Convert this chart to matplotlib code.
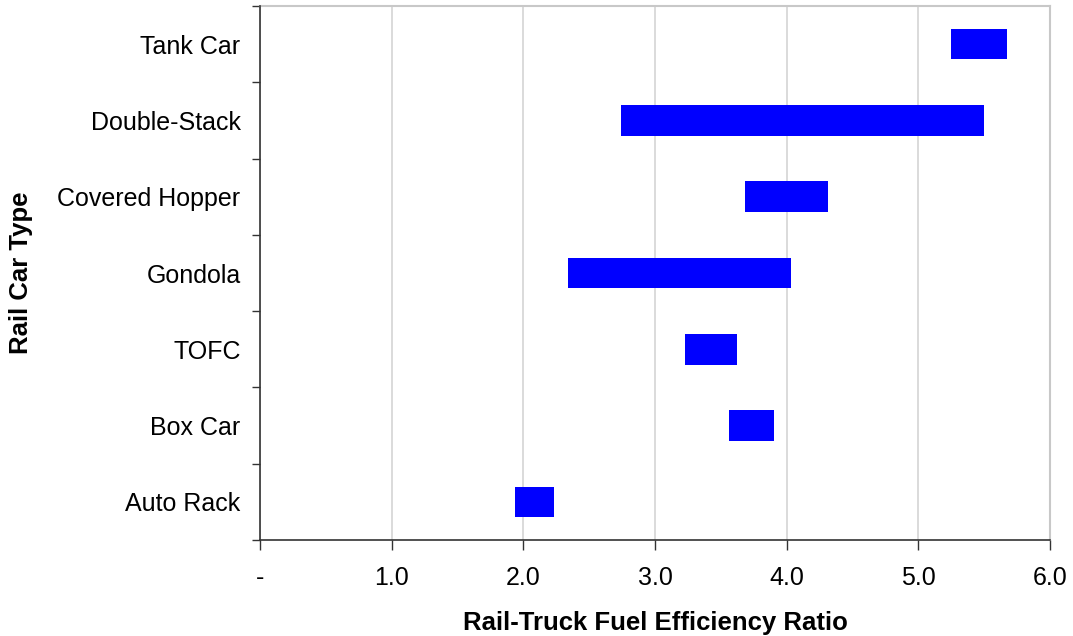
import numpy as np
import matplotlib.pyplot as plt
from matplotlib.ticker import FixedLocator, FuncFormatter

# rail car types, bottom to top, with low / high fuel efficiency ratio
car_types = ["Auto Rack", "Box Car", "TOFC", "Gondola",
             "Covered Hopper", "Double-Stack", "Tank Car"]
ratio_low = [1.94, 3.56, 3.23, 2.34, 3.68, 2.74, 5.25]
ratio_high = [2.23, 3.90, 3.62, 4.03, 4.31, 5.50, 5.67]
x_ticks = [0, 1, 2, 3, 4, 5, 6]

plt.rcParams["font.family"] = ["Liberation Sans", "DejaVu Sans"]

fig = plt.figure(figsize=(10.73, 6.36), dpi=100)
ax = fig.add_axes([0.2423, 0.1509, 0.7363, 0.8397])

y = np.arange(len(car_types))
low = np.array(ratio_low)
high = np.array(ratio_high)
ax.barh(y, high - low, left=low, height=0.4, color="#0000ff", zorder=3)

ax.set_xlim(0, 6)
ax.set_ylim(-0.5, len(car_types) - 0.5)

# vertical gridlines
ax.set_xticks(x_ticks)
ax.xaxis.set_major_formatter(
    FuncFormatter(lambda v, p: "-" if v == 0 else f"{v:.1f}"))
ax.grid(axis="x", color="#d4d4d4", linewidth=1.2, zorder=0)

# category labels centred, tick marks between categories
ax.set_yticks(y)
ax.set_yticklabels(car_types)
ax.yaxis.set_minor_locator(FixedLocator(np.arange(-0.5, len(car_types), 1)))
ax.tick_params(axis="y", which="major", length=0, pad=14, labelsize=18)
ax.tick_params(axis="y", which="minor", length=6, width=1, direction="out",
               color="#333333")
ax.tick_params(axis="x", length=7, width=1, direction="out", pad=12,
               labelsize=18, color="#333333")

# light grey plot-area border at top and right
for side in ["top", "right"]:
    ax.spines[side].set_color("#c8c8c8")
    ax.spines[side].set_linewidth(1.5)
for side in ["left", "bottom"]:
    ax.spines[side].set_color("#333333")
    ax.spines[side].set_linewidth(1.2)
    ax.spines[side].set_zorder(4)

ax.set_xlabel("Rail-Truck Fuel Efficiency Ratio", fontsize=18.5,
              fontweight="bold")
ax.xaxis.set_label_coords(0.5, -0.132)
ax.set_ylabel("Rail Car Type", fontsize=18.5, fontweight="bold")
ax.yaxis.set_label_coords(-0.287, 0.5)

fig.savefig("out.png", dpi=100)
